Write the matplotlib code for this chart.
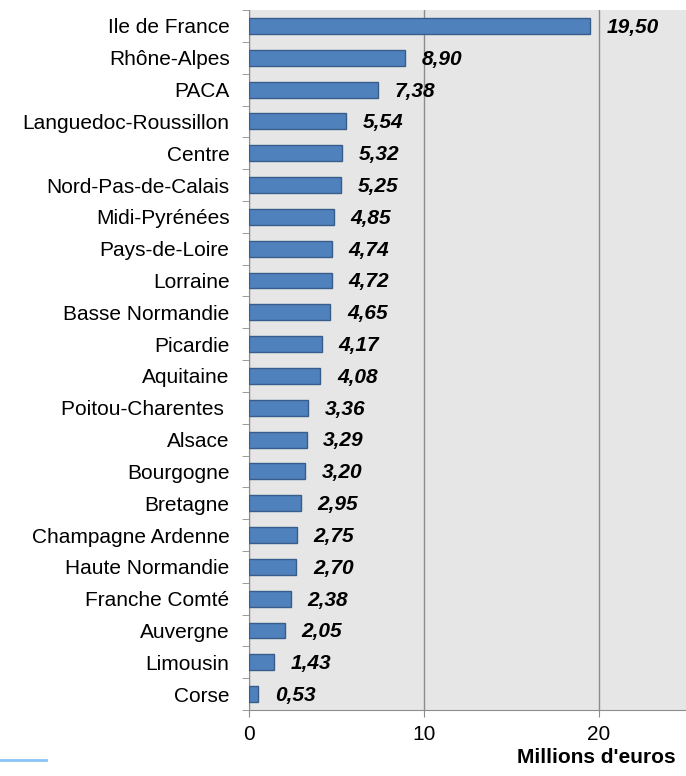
import matplotlib.pyplot as plt
from matplotlib.lines import Line2D
import numpy as np

# --- data (top to bottom as in the chart) ---
regions = ["Ile de France", "Rhône-Alpes", "PACA", "Languedoc-Roussillon", "Centre",
           "Nord-Pas-de-Calais", "Midi-Pyrénées", "Pays-de-Loire", "Lorraine",
           "Basse Normandie", "Picardie", "Aquitaine", "Poitou-Charentes ", "Alsace",
           "Bourgogne", "Bretagne", "Champagne Ardenne", "Haute Normandie",
           "Franche Comté", "Auvergne", "Limousin", "Corse"]
values = [19.50, 8.90, 7.38, 5.54, 5.32, 5.25, 4.85, 4.74, 4.72, 4.65, 4.17, 4.08,
          3.36, 3.29, 3.20, 2.95, 2.75, 2.70, 2.38, 2.05, 1.43, 0.53]
xticks = [0, 10, 20]

plt.rcParams['font.family'] = ['Liberation Sans', 'DejaVu Sans']
FS = 15

fig = plt.figure(figsize=(6.86, 7.76), dpi=100)
ax = fig.add_axes([0.363, 0.085, 0.637, 0.902])
ax.set_facecolor("#e6e6e6")

y = np.arange(len(regions))[::-1]
ax.barh(y, values, height=0.5, color="#4f81bd", edgecolor="#385d8a", linewidth=1, zorder=3)

for yi, v in zip(y, values):
    ax.annotate(f"{v:.2f}".replace(".", ","), (v, yi), xytext=(12, -1),
                textcoords="offset points", va="center", ha="left",
                fontsize=FS, fontweight="bold", fontstyle="italic", zorder=4)

ax.set_xlim(0, 25)
ax.set_ylim(-0.5, len(regions) - 0.5)
ax.set_xticks(xticks)
ax.set_xticklabels([str(t) for t in xticks], fontsize=FS)
ax.xaxis.grid(True, color="#8c8c8c", linewidth=1, zorder=1)
ax.set_axisbelow(True)

ax.set_yticks(y)
ax.set_yticklabels(regions, fontsize=FS)
ax.set_yticks(np.arange(-0.5, len(regions), 1.0), minor=True)
ax.tick_params(axis="y", which="major", length=0, pad=14)
ax.tick_params(axis="y", which="minor", length=5, color="#8c8c8c", direction="out")
ax.tick_params(axis="x", length=5, color="#8c8c8c", pad=6)

for side in ["top", "right"]:
    ax.spines[side].set_visible(False)
for side in ["left", "bottom"]:
    ax.spines[side].set_color("#8c8c8c")

fig.text(0.985, 0.012, "Millions d'euros", ha="right", va="bottom",
         fontsize=FS, fontweight="bold")

# small blue stroke bottom-left
fig.add_artist(Line2D([0.0, 0.067], [0.021, 0.021], color="#8cc4f5", linewidth=2,
                      transform=fig.transFigure))

fig.savefig("out.png", dpi=100)
